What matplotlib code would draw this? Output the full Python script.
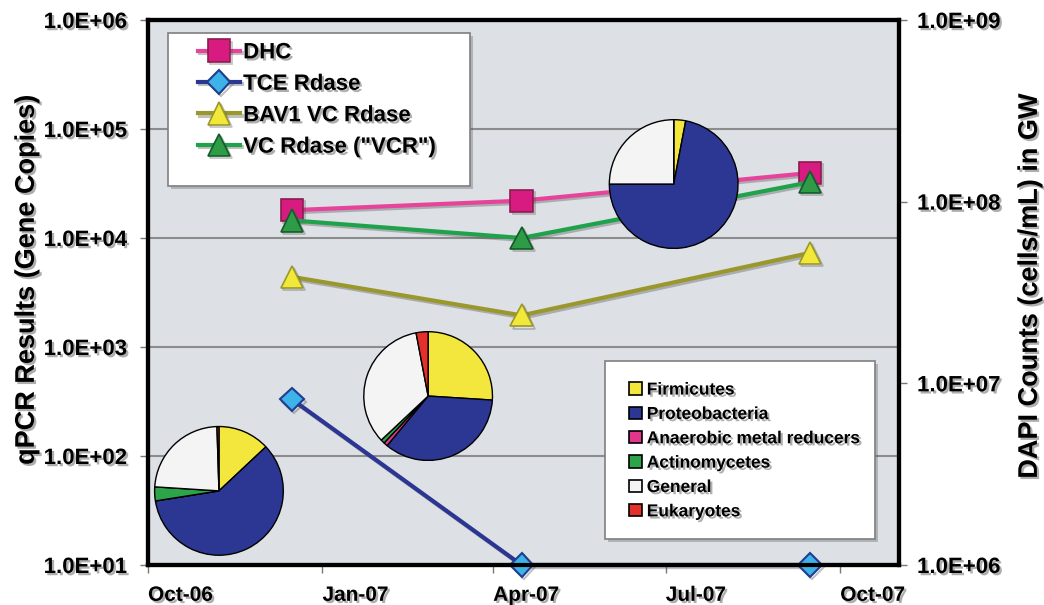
import datetime as dt
import matplotlib
matplotlib.use('Agg')
import matplotlib.pyplot as plt
import matplotlib.dates as mdates
import matplotlib.patheffects as pe
from matplotlib.patches import Rectangle, Patch
from matplotlib.ticker import FixedLocator, NullLocator, FuncFormatter

plt.rcParams['font.family'] = ['Liberation Sans', 'DejaVu Sans']
plt.rcParams['font.weight'] = 'bold'
plt.rcParams['axes.labelweight'] = 'bold'

# sampling dates and qPCR results (gene copies)
sample_dates = [dt.datetime(2006, 12, 16), dt.datetime(2007, 4, 16), dt.datetime(2007, 9, 15)]
dhc = [1.8e4, 2.2e4, 3.95e4]
tce_rdase = [3.3e2, 1.0e1, 1.0e1]
bav1_vc = [4.4e3, 1.95e3, 7.3e3]
vcr = [1.45e4, 1.0e4, 3.25e4]

# community make-up for the three pies (percent)
groups = ['Firmicutes', 'Proteobacteria', 'Anaerobic metal reducers',
          'Actinomycetes', 'General', 'Eukaryotes']
group_colors = ['#F3E63C', '#2B3792', '#E2358C', '#2BA44A', '#F4F4F4', '#E3302B']
pie_a = [13, 59.5, 0, 3.5, 23.5, 0.5]
pie_b = [26, 35, 1, 1, 34, 3]
pie_c = [3, 72, 0, 0, 25, 0]

xtick_dates = [dt.datetime(2006, 10, 1), dt.datetime(2007, 1, 1), dt.datetime(2007, 4, 1),
               dt.datetime(2007, 7, 1), dt.datetime(2007, 10, 1)]
left_ticks = [1e1, 1e2, 1e3, 1e4, 1e5, 1e6]
right_ticks = [1e6, 1e7, 1e8, 1e9]

shadow = [pe.withSimplePatchShadow(offset=(1.6, -1.6), shadow_rgbFace='0.3', alpha=0.45)]
line_shadow = [pe.SimpleLineShadow(offset=(1.5, -1.5), shadow_color='0.3', alpha=0.35), pe.Normal()]

fig = plt.figure(figsize=(10.44, 6.05), dpi=100)
ax = fig.add_axes([148 / 1044, 40 / 605, 751 / 1044, 545 / 605])
ax.set_facecolor('#DDE1E6')
ax2 = ax.twinx()

ax.set_yscale('log')
ax.set_ylim(1e1, 1e6)
ax.set_xlim(dt.datetime(2006, 10, 1), dt.datetime(2007, 11, 1))
ax2.set_yscale('log')
ax2.set_ylim(1e6, 1e9)

sci = FuncFormatter(lambda v, p: '%.1E' % v)
ax.yaxis.set_major_locator(FixedLocator(left_ticks))
ax.yaxis.set_minor_locator(NullLocator())
ax.yaxis.set_major_formatter(sci)
ax2.yaxis.set_major_locator(FixedLocator(right_ticks))
ax2.yaxis.set_minor_locator(NullLocator())
ax2.yaxis.set_major_formatter(sci)
ax.xaxis.set_major_locator(FixedLocator(mdates.date2num(xtick_dates)))
ax.xaxis.set_major_formatter(mdates.DateFormatter('%b-%y'))

ax.yaxis.grid(True, color='#8C8C8C', linewidth=1.5)
ax.set_axisbelow(True)

for a in (ax, ax2):
    for s in a.spines.values():
        s.set_linewidth(3)
        s.set_color('black')
ax.tick_params(axis='y', length=6, width=1, color='#777777', pad=9, labelsize=16)
ax2.tick_params(axis='y', length=6, width=1, color='#777777', pad=7, labelsize=16)
ax.tick_params(axis='x', length=6, width=1, color='#777777', pad=9, labelsize=15)
for t in ax.get_xticklabels():
    t.set_ha('left')

# lines
l1, = ax.plot(sample_dates, dhc, color='#E6449A', lw=3, marker='s', ms=16,
              mfc='#D81B80', mec='#8A1B4E', mew=1.2, label='DHC', zorder=3)
l2, = ax.plot(sample_dates, tce_rdase, color='#2B3592', lw=3, marker='D', ms=12,
              mfc='#3DB3EA', mec='#1F3E8F', mew=1.5, label='TCE Rdase', zorder=3)
l3, = ax.plot(sample_dates, bav1_vc, color='#9A982C', lw=3, marker='^', ms=16,
              mfc='#F2E83A', mec='#9A982C', mew=1.2, label='BAV1 VC Rdase', zorder=3)
l4, = ax.plot(sample_dates, vcr, color='#1FA24A', lw=3, marker='^', ms=16,
              mfc='#2E9B47', mec='#145A2A', mew=1.2, label='VC Rdase ("VCR")', zorder=3)
for ln in (l1, l2, l3, l4):
    ln.set_clip_on(False)
    ln.set_path_effects(line_shadow)

ax.set_ylabel('qPCR Results (Gene Copies)', fontsize=19.5, fontweight='bold')
ax2.set_ylabel('DAPI Counts (cells/mL) in GW', fontsize=19.5, fontweight='bold')
ax.yaxis.set_label_coords(-0.144, 0.523)
ax2.yaxis.set_label_coords(1.157, 0.512)
ax.yaxis.label.set_path_effects(shadow)
ax2.yaxis.label.set_path_effects(shadow)
for t in ax.get_yticklabels() + ax2.get_yticklabels() + ax.get_xticklabels():
    t.set_path_effects(shadow)

# legend 1 (gene lines)
box1 = Rectangle((0.0266, 0.695), 0.4022, 0.281, transform=ax2.transAxes,
                 facecolor='white', edgecolor='#7F7F7F', lw=1.2, zorder=4,
                 path_effects=[pe.withSimplePatchShadow(offset=(2, -2), alpha=0.3)])
ax2.add_patch(box1)
leg1 = ax2.legend(handles=[l1, l2, l3, l4], loc='upper left', bbox_to_anchor=(0.066, 0.959),
                  frameon=False, fontsize=16, handlelength=1.9, handletextpad=0.15,
                  labelspacing=0.47, borderpad=0, borderaxespad=0)
for t in leg1.get_texts():
    t.set_path_effects(shadow)
ax2.add_artist(leg1)

# legend 2 (pie groups)
box2 = Rectangle((0.609, 0.048), 0.3595, 0.3266, transform=ax2.transAxes,
                 facecolor='white', edgecolor='#7F7F7F', lw=1.2, zorder=4,
                 path_effects=[pe.withSimplePatchShadow(offset=(2, -2), alpha=0.3)])
ax2.add_patch(box2)
patches = [Patch(facecolor=c, edgecolor='black', lw=1.2, label=g) for g, c in zip(groups, group_colors)]
leg2 = ax2.legend(handles=patches, loc='upper left', bbox_to_anchor=(0.641, 0.335),
                  frameon=False, fontsize=12.5, handlelength=0.7, handleheight=0.7,
                  handletextpad=0.3, labelspacing=0.53, borderpad=0, borderaxespad=0)
for t in leg2.get_texts():
    t.set_path_effects(shadow)

# pies, placed over the plot area (axes-fraction centres)
pie_sets = [(pie_a, 0.0945, 0.136), (pie_b, 0.373, 0.310), (pie_c, 0.700, 0.699)]
pw, ph = 130 / 1044, 130 / 605
for vals, cx, cy in pie_sets:
    fx = 148 / 1044 + cx * 751 / 1044
    fy = 40 / 605 + cy * 545 / 605
    pax = fig.add_axes([fx - pw / 2, fy - ph / 2, pw, ph])
    pax.pie(vals, colors=group_colors, startangle=90, counterclock=False,
            wedgeprops=dict(edgecolor='black', linewidth=1.0))
    pax.set_xlim(-1.01, 1.01)
    pax.set_ylim(-1.01, 1.01)
    pax.set_aspect('equal')
    pax.axis('off')

fig.savefig('out.png', dpi=100)
